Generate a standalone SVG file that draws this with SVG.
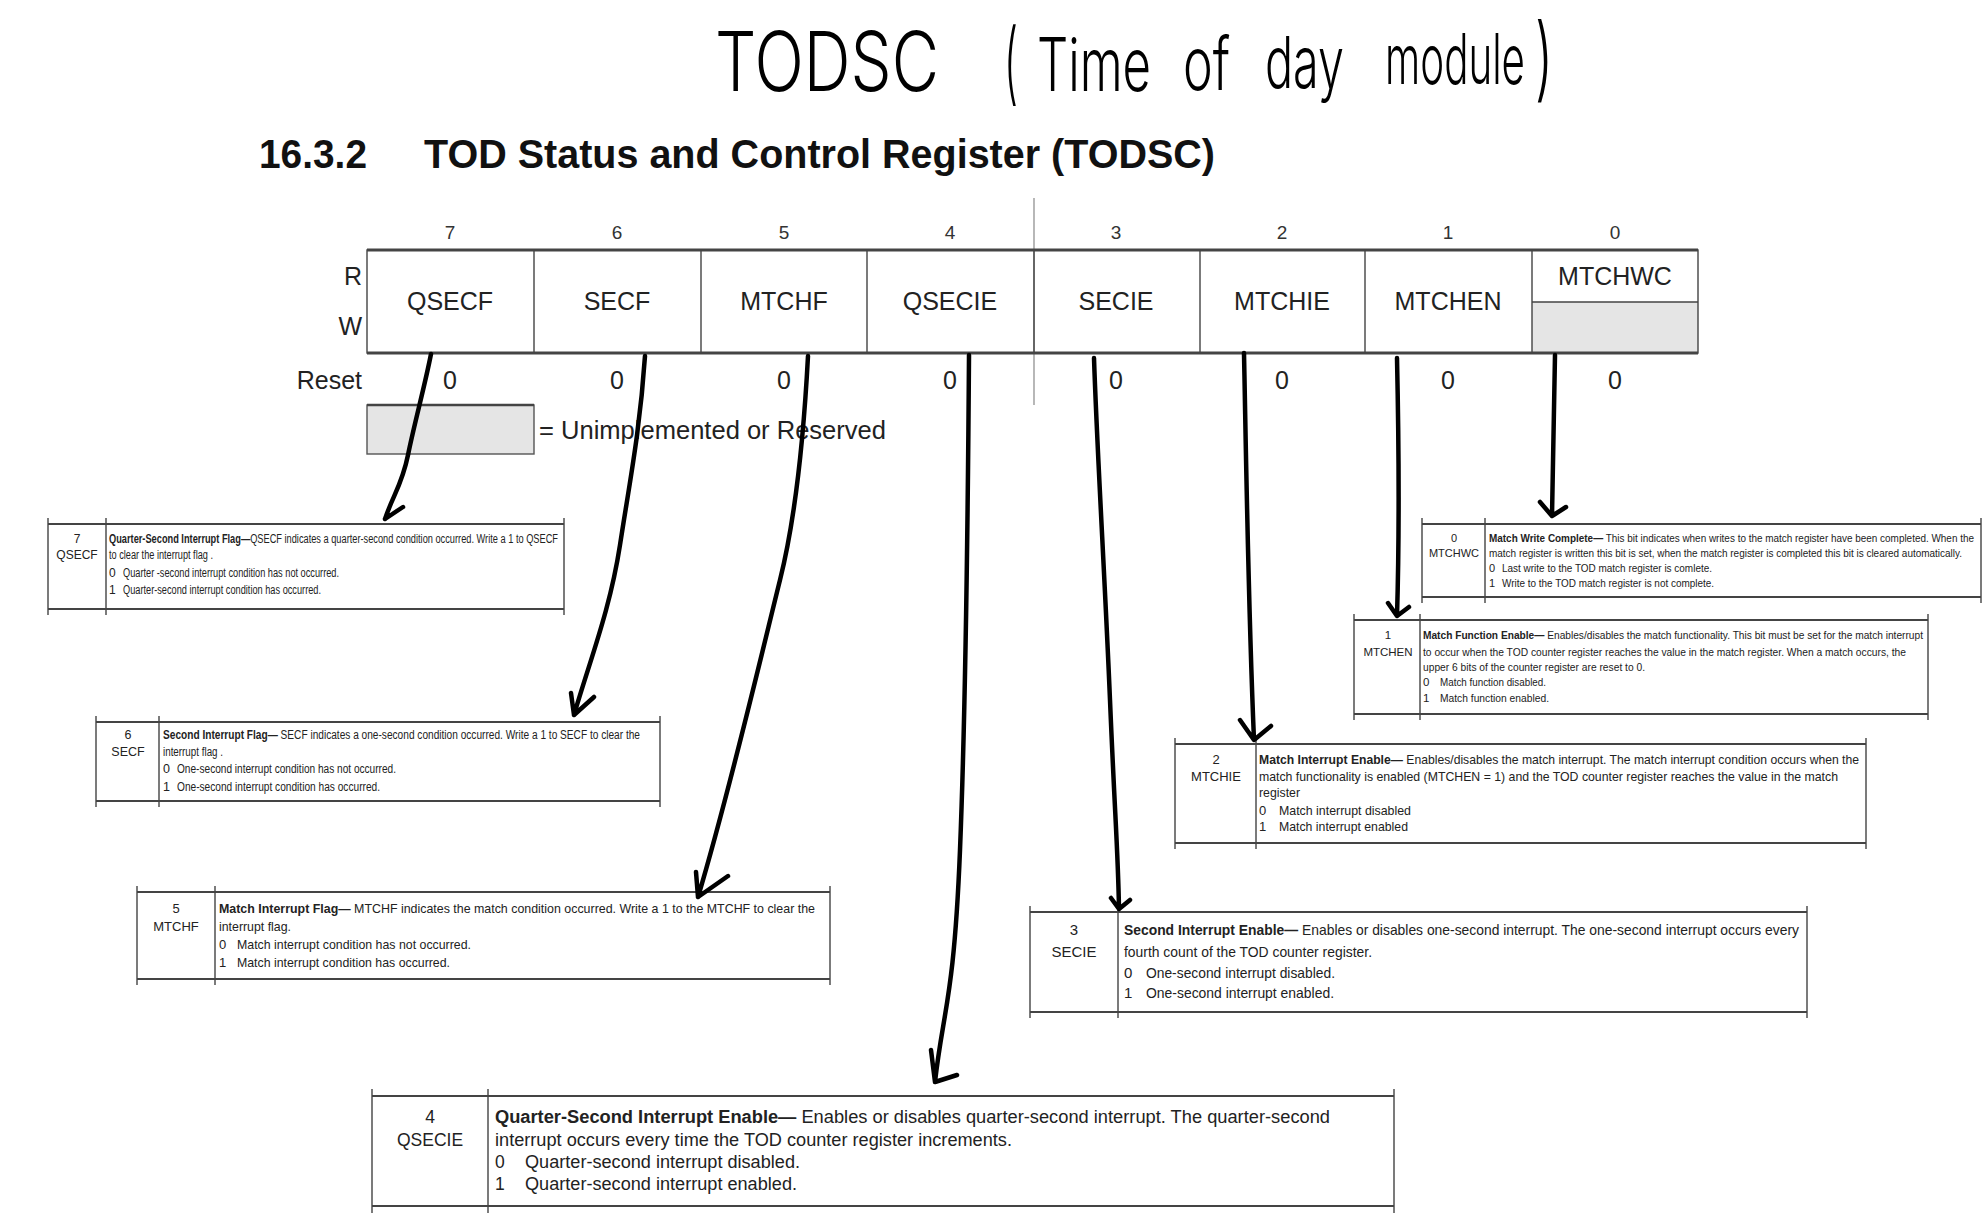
<svg xmlns="http://www.w3.org/2000/svg" width="1984" height="1222" viewBox="0 0 1984 1222">
<style>
  .hand{font-family:Inter,"Liberation Sans",Arial,sans-serif;font-weight:300;fill:#000;}
  .head{font-family:"Liberation Sans",Arial,sans-serif;font-size:40px;font-weight:bold;fill:#111;}
  .bit{font-family:"Liberation Sans",Arial,sans-serif;font-size:19px;fill:#333;text-anchor:middle;}
  .lab{font-family:"Liberation Sans",Arial,sans-serif;font-size:25px;fill:#222;}
  .mid{text-anchor:middle;}
  .end{text-anchor:end;}
  .grid{stroke:#444;stroke-width:1.4;fill:none;}
  .thick{stroke:#444;stroke-width:3;fill:none;}
  .gray{fill:#e5e5e5;}
  .tb{stroke:#444;stroke-width:1.4;fill:none;}
  .tbh{stroke:#444;stroke-width:2;fill:none;}
  .tx{font-family:"Liberation Sans",Arial,sans-serif;fill:#222;}
  .b{font-weight:bold;}
  .arrow{stroke:#000;stroke-width:4.5;fill:none;stroke-linecap:round;stroke-linejoin:round;}
</style>

<g id="title">
  <text class="hand" x="715" y="91" font-size="82" textLength="224" lengthAdjust="spacingAndGlyphs">TODSC</text>
  <text class="hand" x="1004" y="94" font-size="90" textLength="14" lengthAdjust="spacingAndGlyphs">(</text>
  <text class="hand" x="1037" y="91" font-size="74" textLength="114" lengthAdjust="spacingAndGlyphs">Time</text>
  <text class="hand" x="1183" y="90" font-size="74" textLength="47" lengthAdjust="spacingAndGlyphs">of</text>
  <text class="hand" x="1265" y="88" font-size="72" textLength="79" lengthAdjust="spacingAndGlyphs">day</text>
  <text class="hand" x="1385" y="84" font-size="70" textLength="140" lengthAdjust="spacingAndGlyphs">module</text>
  <text class="hand" x="1535" y="90" font-size="92" textLength="18" lengthAdjust="spacingAndGlyphs">)</text>
</g>
<g id="heading">
  <text class="head" x="259" y="168" textLength="108" lengthAdjust="spacingAndGlyphs">16.3.2</text>
  <text class="head" x="424" y="168" textLength="791" lengthAdjust="spacingAndGlyphs">TOD Status and Control Register (TODSC)</text>
</g>

<g id="register">
  <line x1="1034" y1="198" x2="1034" y2="405" stroke="#888" stroke-width="1.2"/>
  <rect x="1532" y="302" width="166" height="51" class="gray"/>
  <rect x="367" y="250" width="1331" height="103" fill="none" class="grid"/>
  <line class="thick" x1="367" y1="250" x2="1698" y2="250"/>
  <line class="thick" x1="367" y1="353" x2="1698" y2="353"/>
  <path class="grid" d="M534,250V353M701,250V353M867,250V353M1034,250V353M1200,250V353M1365,250V353M1532,250V353M1532,302H1698"/>
  <text class="bit" x="450" y="239">7</text>
  <text class="bit" x="617" y="239">6</text>
  <text class="bit" x="784" y="239">5</text>
  <text class="bit" x="950" y="239">4</text>
  <text class="bit" x="1116" y="239">3</text>
  <text class="bit" x="1282" y="239">2</text>
  <text class="bit" x="1448" y="239">1</text>
  <text class="bit" x="1615" y="239">0</text>
  <text class="lab end" x="362" y="285">R</text>
  <text class="lab end" x="362" y="335">W</text>
  <text class="lab end" x="362" y="389">Reset</text>
  <text class="lab mid" x="450" y="310">QSECF</text>
  <text class="lab mid" x="617" y="310">SECF</text>
  <text class="lab mid" x="784" y="310">MTCHF</text>
  <text class="lab mid" x="950" y="310">QSECIE</text>
  <text class="lab mid" x="1116" y="310">SECIE</text>
  <text class="lab mid" x="1282" y="310">MTCHIE</text>
  <text class="lab mid" x="1448" y="310">MTCHEN</text>
  <text class="lab mid" x="1615" y="285">MTCHWC</text>
  <text class="lab mid" x="450" y="389">0</text>
  <text class="lab mid" x="617" y="389">0</text>
  <text class="lab mid" x="784" y="389">0</text>
  <text class="lab mid" x="950" y="389">0</text>
  <text class="lab mid" x="1116" y="389">0</text>
  <text class="lab mid" x="1282" y="389">0</text>
  <text class="lab mid" x="1448" y="389">0</text>
  <text class="lab mid" x="1615" y="389">0</text>
</g>

<g id="legend">
  <rect x="367" y="405" width="167" height="49" class="gray" stroke="#555" stroke-width="1.4"/>
  <line x1="367" y1="405" x2="534" y2="405" stroke="#444" stroke-width="2.5"/>
  <text class="lab" x="539" y="439" textLength="347" lengthAdjust="spacingAndGlyphs">= Unimplemented or Reserved</text>
</g>

<g id="desc-qsecf">
  <path class="tbh" d="M48,524H564M48,609H564"/>
  <path class="tb" d="M48,518V615M106,518V615M564,518V615"/>
  <g class="tx" font-size="12">
    <text x="77" y="543" text-anchor="middle">7</text>
    <text x="77" y="559" text-anchor="middle">QSECF</text>
    <text x="109" y="543" textLength="449" lengthAdjust="spacingAndGlyphs"><tspan class="b">Quarter-Second Interrupt Flag—</tspan>QSECF indicates a quarter-second condition occurred. Write a 1 to QSECF</text>
    <text x="109" y="559" textLength="104" lengthAdjust="spacingAndGlyphs">to clear the interrupt flag .</text>
    <text x="109" y="577">0</text><text x="123" y="577" textLength="216" lengthAdjust="spacingAndGlyphs">Quarter -second interrupt condition has not occurred.</text>
    <text x="109" y="594">1</text><text x="123" y="594" textLength="198" lengthAdjust="spacingAndGlyphs">Quarter-second interrupt condition has occurred.</text>
  </g>
</g>

<g id="desc-secf">
  <path class="tbh" d="M96,722H660M96,801H660"/>
  <path class="tb" d="M96,716V807M159,716V807M660,716V807"/>
  <g class="tx" font-size="12.5">
    <text x="128" y="739" text-anchor="middle">6</text>
    <text x="128" y="756" text-anchor="middle">SECF</text>
    <text x="163" y="739" textLength="477" lengthAdjust="spacingAndGlyphs"><tspan class="b">Second Interrupt Flag—</tspan> SECF indicates a one-second condition occurred. Write a 1 to SECF to clear the</text>
    <text x="163" y="756" textLength="60" lengthAdjust="spacingAndGlyphs">interrupt flag .</text>
    <text x="163" y="773">0</text><text x="177" y="773" textLength="219" lengthAdjust="spacingAndGlyphs">One-second interrupt condition has not occurred.</text>
    <text x="163" y="791">1</text><text x="177" y="791" textLength="203" lengthAdjust="spacingAndGlyphs">One-second interrupt condition has occurred.</text>
  </g>
</g>

<g id="desc-mtchf">
  <path class="tbh" d="M137,892H830M137,979H830"/>
  <path class="tb" d="M137,886V985M215,886V985M830,886V985"/>
  <g class="tx" font-size="13">
    <text x="176" y="913" text-anchor="middle">5</text>
    <text x="176" y="931" text-anchor="middle">MTCHF</text>
    <text x="219" y="913" textLength="596" lengthAdjust="spacingAndGlyphs"><tspan class="b">Match Interrupt Flag—</tspan> MTCHF indicates the match condition occurred. Write a 1 to the MTCHF to clear the</text>
    <text x="219" y="931" textLength="72" lengthAdjust="spacingAndGlyphs">interrupt flag.</text>
    <text x="219" y="949">0</text><text x="237" y="949" textLength="234" lengthAdjust="spacingAndGlyphs">Match interrupt condition has not occurred.</text>
    <text x="219" y="967">1</text><text x="237" y="967" textLength="213" lengthAdjust="spacingAndGlyphs">Match interrupt condition has occurred.</text>
  </g>
</g>

<g id="desc-qsecie">
  <path class="tbh" d="M372,1096H1394M372,1206H1394"/>
  <path class="tb" d="M372,1089V1213M488,1089V1213M1394,1089V1213"/>
  <g class="tx" font-size="17.5">
    <text x="430" y="1123" text-anchor="middle">4</text>
    <text x="430" y="1146" text-anchor="middle">QSECIE</text>
    <text x="495" y="1123" textLength="835" lengthAdjust="spacingAndGlyphs"><tspan class="b">Quarter-Second Interrupt Enable—</tspan> Enables or disables quarter-second interrupt. The quarter-second</text>
    <text x="495" y="1146" textLength="517" lengthAdjust="spacingAndGlyphs">interrupt occurs every time the TOD counter register increments.</text>
    <text x="495" y="1168">0</text><text x="525" y="1168" textLength="275" lengthAdjust="spacingAndGlyphs">Quarter-second interrupt disabled.</text>
    <text x="495" y="1190">1</text><text x="525" y="1190" textLength="272" lengthAdjust="spacingAndGlyphs">Quarter-second interrupt enabled.</text>
  </g>
</g>

<g id="desc-secie">
  <path class="tbh" d="M1030,912H1807M1030,1012H1807"/>
  <path class="tb" d="M1030,906V1018M1118,906V1018M1807,906V1018"/>
  <g class="tx" font-size="15">
    <text x="1074" y="935" text-anchor="middle">3</text>
    <text x="1074" y="957" text-anchor="middle">SECIE</text>
    <text x="1124" y="935" textLength="675" lengthAdjust="spacingAndGlyphs"><tspan class="b">Second Interrupt Enable—</tspan> Enables or disables one-second interrupt. The one-second interrupt occurs every</text>
    <text x="1124" y="957" textLength="248" lengthAdjust="spacingAndGlyphs">fourth count of the TOD counter register.</text>
    <text x="1124" y="978">0</text><text x="1146" y="978" textLength="189" lengthAdjust="spacingAndGlyphs">One-second interrupt disabled.</text>
    <text x="1124" y="998">1</text><text x="1146" y="998" textLength="188" lengthAdjust="spacingAndGlyphs">One-second interrupt enabled.</text>
  </g>
</g>

<g id="desc-mtchie">
  <path class="tbh" d="M1175,744H1866M1175,843H1866"/>
  <path class="tb" d="M1175,738V849M1256,738V849M1866,738V849"/>
  <g class="tx" font-size="13">
    <text x="1216" y="764" text-anchor="middle">2</text>
    <text x="1216" y="781" text-anchor="middle">MTCHIE</text>
    <text x="1259" y="764" textLength="600" lengthAdjust="spacingAndGlyphs"><tspan class="b">Match Interrupt Enable—</tspan> Enables/disables the match interrupt. The match interrupt condition occurs when the</text>
    <text x="1259" y="781" textLength="579" lengthAdjust="spacingAndGlyphs">match functionality is enabled (MTCHEN = 1) and the TOD counter register reaches the value in the match</text>
    <text x="1259" y="797" textLength="41" lengthAdjust="spacingAndGlyphs">register</text>
    <text x="1259" y="815">0</text><text x="1279" y="815" textLength="132" lengthAdjust="spacingAndGlyphs">Match interrupt disabled</text>
    <text x="1259" y="831">1</text><text x="1279" y="831" textLength="129" lengthAdjust="spacingAndGlyphs">Match interrupt enabled</text>
  </g>
</g>

<g id="desc-mtchen">
  <path class="tbh" d="M1354,620H1928M1354,714H1928"/>
  <path class="tb" d="M1354,614V720M1420,614V720M1928,614V720"/>
  <g class="tx" font-size="11.5">
    <text x="1388" y="639" text-anchor="middle">1</text>
    <text x="1388" y="656" text-anchor="middle">MTCHEN</text>
    <text x="1423" y="639" textLength="500" lengthAdjust="spacingAndGlyphs"><tspan class="b">Match Function Enable—</tspan> Enables/disables the match functionality. This bit must be set for the match interrupt</text>
    <text x="1423" y="656" textLength="483" lengthAdjust="spacingAndGlyphs">to occur when the TOD counter register reaches the value in the match register. When a match occurs, the</text>
    <text x="1423" y="671" textLength="222" lengthAdjust="spacingAndGlyphs">upper 6 bits of the counter register are reset to 0.</text>
    <text x="1423" y="686">0</text><text x="1440" y="686" textLength="106" lengthAdjust="spacingAndGlyphs">Match function disabled.</text>
    <text x="1423" y="702">1</text><text x="1440" y="702" textLength="109" lengthAdjust="spacingAndGlyphs">Match function enabled.</text>
  </g>
</g>

<g id="desc-mtchwc">
  <path class="tbh" d="M1422,524H1981M1422,597H1981"/>
  <path class="tb" d="M1422,518V603M1485,518V603M1981,518V603"/>
  <g class="tx" font-size="11">
    <text x="1454" y="542" text-anchor="middle">0</text>
    <text x="1454" y="557" text-anchor="middle">MTCHWC</text>
    <text x="1489" y="542" textLength="485" lengthAdjust="spacingAndGlyphs"><tspan class="b">Match Write Complete—</tspan> This bit indicates when writes to the match register have been completed. When the</text>
    <text x="1489" y="557" textLength="473" lengthAdjust="spacingAndGlyphs">match register is written this bit is set, when the match register is completed this bit is cleared automatically.</text>
    <text x="1489" y="572">0</text><text x="1502" y="572" textLength="210" lengthAdjust="spacingAndGlyphs">Last write to the TOD match register is comlete.</text>
    <text x="1489" y="587">1</text><text x="1502" y="587" textLength="212" lengthAdjust="spacingAndGlyphs">Write to the TOD match register is not complete.</text>
  </g>
</g>

<g id="connectors">
  <path class="arrow" d="M431,354 C425,385 414,425 408,455 S393,495 385,519 M385,519 L403,507"/>
  <path class="arrow" d="M645,356 C640,430 630,480 620,545 S590,660 574,715 M571,693 L574,715 L594,697"/>
  <path class="arrow" d="M808,356 C803,450 795,520 780,580 S730,790 698,897 M696,872 L698,897 L728,876"/>
  <path class="arrow" d="M969,355 C968,500 966,700 960,850 S943,1010 935,1082 M931,1050 L935,1082 L957,1075"/>
  <path class="arrow" d="M1094,358 C1097,450 1105,580 1110,700 S1118,850 1119,909 M1111,898 L1119,909 L1130,900"/>
  <path class="arrow" d="M1244,353 C1246,450 1248,600 1254,740 M1240,720 L1254,740 L1271,726"/>
  <path class="arrow" d="M1397,358 C1399,450 1399,550 1397,616 M1388,603 L1397,616 L1409,607"/>
  <path class="arrow" d="M1555,355 C1554,420 1553,470 1552,516 M1540,502 L1552,516 L1566,507"/>
</g>
</svg>
